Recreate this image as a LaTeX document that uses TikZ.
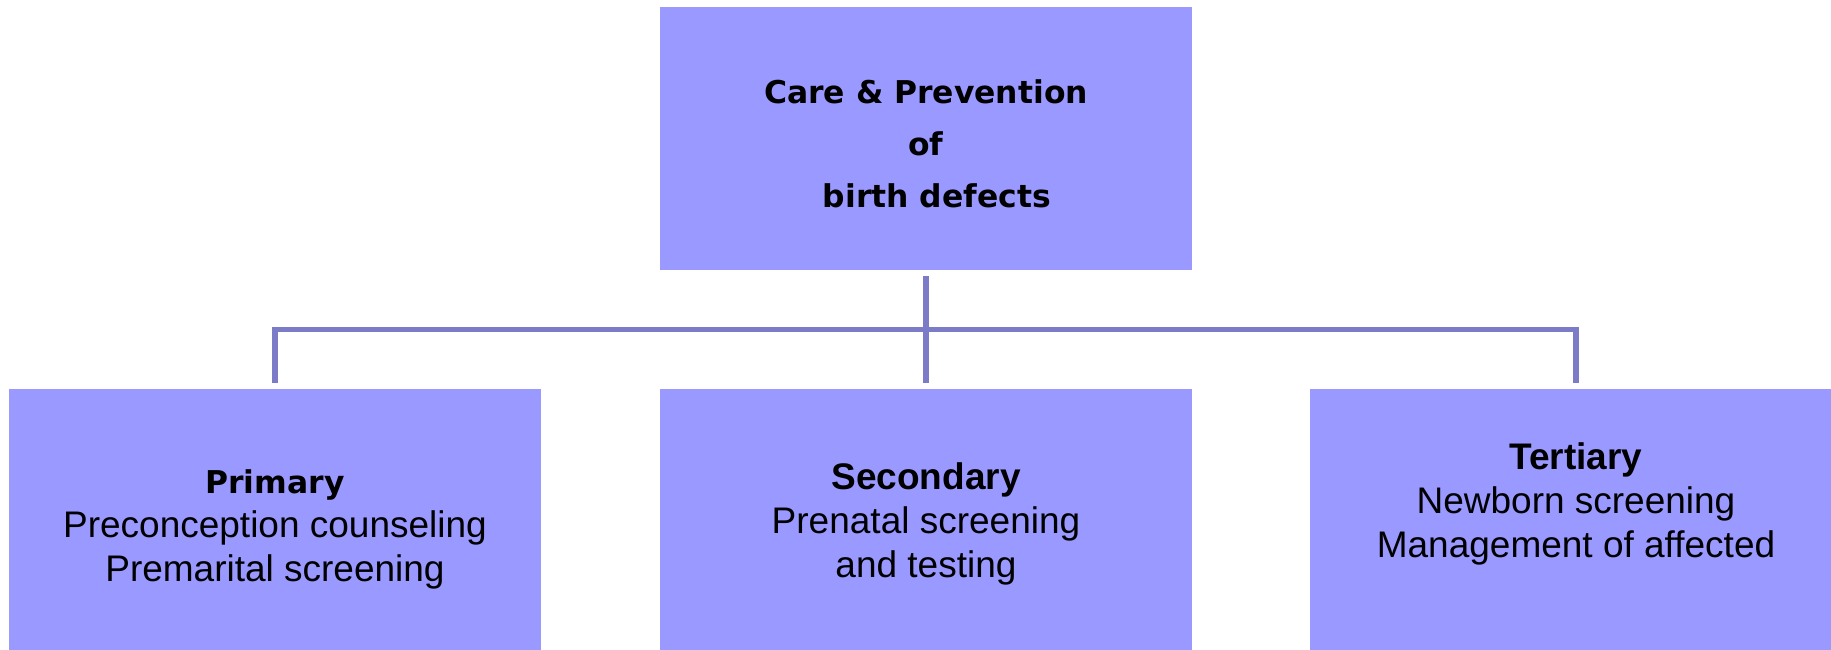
\documentclass[tikz,border=0pt]{standalone}
\usepackage{fontspec}
\setmainfont{Liberation Sans}
\newfontfamily\comicfont{DejaVu Sans}
\usepackage{tikz}

\definecolor{boxblue}{HTML}{9999FF}
\definecolor{lineblue}{HTML}{7B7BC8}

\begin{document}
\begin{tikzpicture}[x=0.5pt,y=-0.5pt,
        levelbox/.style={rectangle,fill=boxblue,inner sep=0,minimum width=266pt,minimum height=131.5pt},
        headtext/.style={align=center,inner sep=0,font=\comicfont\bfseries\fontsize{15.7}{26}\selectfont},
        bodytext/.style={align=center,inner sep=0,font=\fontsize{18.5}{22}\selectfont},
        connector/.style={draw=lineblue,line width=2.75pt}]
        \useasboundingbox (0,0) rectangle (1831,649);

        \node[levelbox] (care) at (926,138.5) {};
        \node[headtext] (caretext) at ([yshift=-2.5pt]care.center) {Care \& Prevention\\of\\\ \ birth defects};

        \node[levelbox] (prim) at (275,520.5) {};
        \node[levelbox] (sec) at (926,520.5) {};
        \node[levelbox] (tert) at (1576,520.5) {};

        \node[bodytext] (primtext) at ([yshift=-4.5pt]prim.center) {{\comicfont\bfseries\fontsize{15.7}{22}\selectfont Primary}\\Preconception counseling\\Premarital screening};
        \node[bodytext] (sectext) at ([yshift=-1.5pt]sec.center) {\textbf{Secondary}\\Prenatal screening\\and testing};
        \node[bodytext] (terttext) at ([yshift=8.5pt]tert.center) {\textbf{Tertiary}\\Newborn screening\\Management of affected};

        \coordinate (split) at (926,329.5);
        \path[connector] ([yshift=-3pt]care.south) -- (split);
        \path[connector] ([yshift=3pt]sec.north) -- (split);
        \path[connector] ([yshift=3pt]prim.north) -- (prim.north |- split) -- (tert.north |- split) -- ([yshift=3pt]tert.north);

    \end{tikzpicture}
\end{document}
